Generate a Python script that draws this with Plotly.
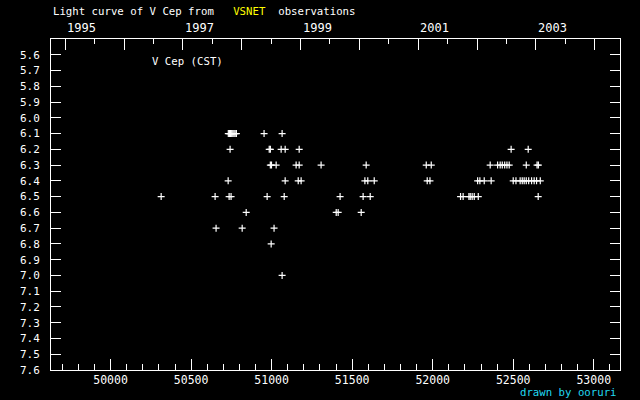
import plotly.graph_objects as go

# ---- data (JD - 2400000, visual magnitude) ----
jd = [
    50314, 50649, 50655,
    50731, 50738, 50745, 50752, 50759, 50766, 50773, 50781,
    50730, 50736, 50748, 50742, 50817, 50842,
    50953, 50972, 50985, 50992, 50992, 50999, 50997, 51015, 51028,
    51059, 51065, 51065, 51078, 51084, 51084,
    51152, 51171, 51165, 51183, 51171, 51307,
    51401, 51413, 51425, 51556, 51568, 51579, 51597, 51587, 51612, 51637,
    51960, 51966, 51983, 51991,
    52173, 52189, 52225, 52233, 52245, 52258, 52283,
    52279, 52293, 52320, 52357, 52363,
    52403, 52419, 52432, 52447, 52461, 52475, 52487,
    52500, 52517, 52543, 52556, 52568, 52581, 52596, 52614, 52630, 52645, 52668,
    52581, 52593, 52648, 52656, 52655,
]
mag = [
    6.5, 6.5, 6.7,
    6.1, 6.1, 6.1, 6.1, 6.1, 6.1, 6.1, 6.1,
    6.4, 6.5, 6.5, 6.2, 6.7, 6.6,
    6.1, 6.5, 6.2, 6.2, 6.3, 6.3, 6.8, 6.7, 6.3,
    6.2, 6.1, 7.0, 6.5, 6.2, 6.4,
    6.3, 6.3, 6.4, 6.4, 6.2, 6.3,
    6.6, 6.6, 6.5, 6.6, 6.5, 6.4, 6.4, 6.3, 6.5, 6.4,
    6.3, 6.4, 6.4, 6.3,
    6.5, 6.5, 6.5, 6.5, 6.5, 6.5, 6.5,
    6.4, 6.4, 6.4, 6.3, 6.4,
    6.3, 6.3, 6.3, 6.3, 6.3, 6.3, 6.2,
    6.4, 6.4, 6.4, 6.4, 6.4, 6.4, 6.4, 6.4, 6.4, 6.4, 6.4,
    6.3, 6.2, 6.3, 6.3, 6.5,
]

mag_ticks = [5.6, 5.7, 5.8, 5.9, 6.0, 6.1, 6.2, 6.3, 6.4, 6.5, 6.6, 6.7, 6.8,
             6.9, 7.0, 7.1, 7.2, 7.3, 7.4, 7.5, 7.6]
mag_labels = ["%.1f" % v for v in mag_ticks]
jd_ticks = [50000, 50500, 51000, 51500, 52000, 52500, 53000]
jd_labels = [str(v) for v in jd_ticks]

# Jan 1 of each year, JD - 2400000
year_starts = [49718.5, 50083.5, 50449.5, 50814.5, 51179.5, 51544.5,
               51910.5, 52275.5, 52640.5, 53005.5]
years = [1995, 1996, 1997, 1998, 1999, 2000, 2001, 2002, 2003, 2004]
label_years = [1995, 1997, 1999, 2001, 2003]

x_range = [49630, 53163]
y_range = [7.6, 5.5]

mid_years = [(a + b) / 2 for a, b in zip(year_starts[:-1], year_starts[1:])]

MONO = "DejaVu Sans Mono"

fig = go.Figure()
fig.add_trace(go.Scatter(
    x=jd, y=mag, mode="markers",
    marker=dict(symbol="cross-thin", size=5, color="white",
                line=dict(color="white", width=1.2)),
    showlegend=False, hoverinfo="x+y",
))

fig.update_layout(
    width=640, height=400,
    paper_bgcolor="black", plot_bgcolor="black",
    margin=dict(l=51, r=20, t=39, b=30, autoexpand=False),
    font=dict(family=MONO, color="white", size=11),
    xaxis=dict(
        range=x_range, showgrid=False, zeroline=False,
        showline=True, linecolor="white", linewidth=1,
        ticks="inside", ticklen=11, tickwidth=1, tickcolor="white",
        tickmode="array", tickvals=jd_ticks, ticktext=jd_labels,
        tickfont=dict(family=MONO, size=11.5, color="white"),
        ticklabelstandoff=-1,
        minor=dict(ticks="inside", ticklen=6, tickwidth=1, tickcolor="white",
                   dtick=100, tick0=50000, showgrid=False),
        mirror=False,
    ),
    xaxis2=dict(
        range=x_range, overlaying="x", side="top", anchor="y",
        showgrid=False, zeroline=False,
        showline=True, linecolor="white", linewidth=1,
        ticks="inside", ticklen=11, tickwidth=1, tickcolor="white",
        tickmode="array", tickvals=year_starts, showticklabels=False,
        minor=dict(ticks="inside", ticklen=5, tickwidth=1, tickcolor="white",
                   tickmode="array", tickvals=mid_years, showgrid=False),
    ),
    yaxis=dict(
        range=y_range, showgrid=False, zeroline=False,
        showline=True, linecolor="white", linewidth=1, mirror="ticks",
        ticks="inside", ticklen=10, tickwidth=1, tickcolor="white",
        tickmode="array", tickvals=mag_ticks, ticktext=mag_labels,
        tickfont=dict(family=MONO, size=11, color="white"),
        ticklabelstandoff=8,
    ),
)

# dummy trace to activate top axis
fig.add_trace(go.Scatter(x=[x_range[0]], y=[y_range[0]], xaxis="x2", mode="markers",
                         marker=dict(opacity=0), showlegend=False, hoverinfo="skip"))

annotations = []
for y, xs in zip(years, year_starts):
    if y in label_years:
        annotations.append(dict(
            x=xs, xref="x", y=(370 - 28) / 331, yref="paper",
            text=str(y), showarrow=False, xanchor="left", yanchor="middle",
            font=dict(family=MONO, size=12, color="white")))

TXT = 10.7
annotations.append(dict(
    x=0, xref="paper", y=(370 - 12) / 331, yref="paper", xanchor="left", yanchor="middle",
    showarrow=False, align="left",
    text="Light curve of V Cep from   <span style='color:#ffff00'>VSNET</span>  observations",
    font=dict(family=MONO, size=TXT, color="white")))
annotations.append(dict(
    x=(150 - 51) / 569, xref="paper", y=(370 - 61) / 331, yref="paper",
    xanchor="left", yanchor="middle", showarrow=False,
    text="V Cep (CST)", font=dict(family=MONO, size=TXT, color="white")))
annotations.append(dict(
    x=(619 - 51) / 569, xref="paper", y=(370 - 392) / 331, yref="paper",
    xanchor="right", yanchor="middle", showarrow=False,
    text="drawn by ooruri", font=dict(family=MONO, size=TXT, color="#20d8f0")))

fig.update_layout(annotations=annotations)

fig.write_html(
    "out.html",
    config={"displayModeBar": False},
    post_script="document.body.style.margin='0';document.body.style.background='black';",
)
